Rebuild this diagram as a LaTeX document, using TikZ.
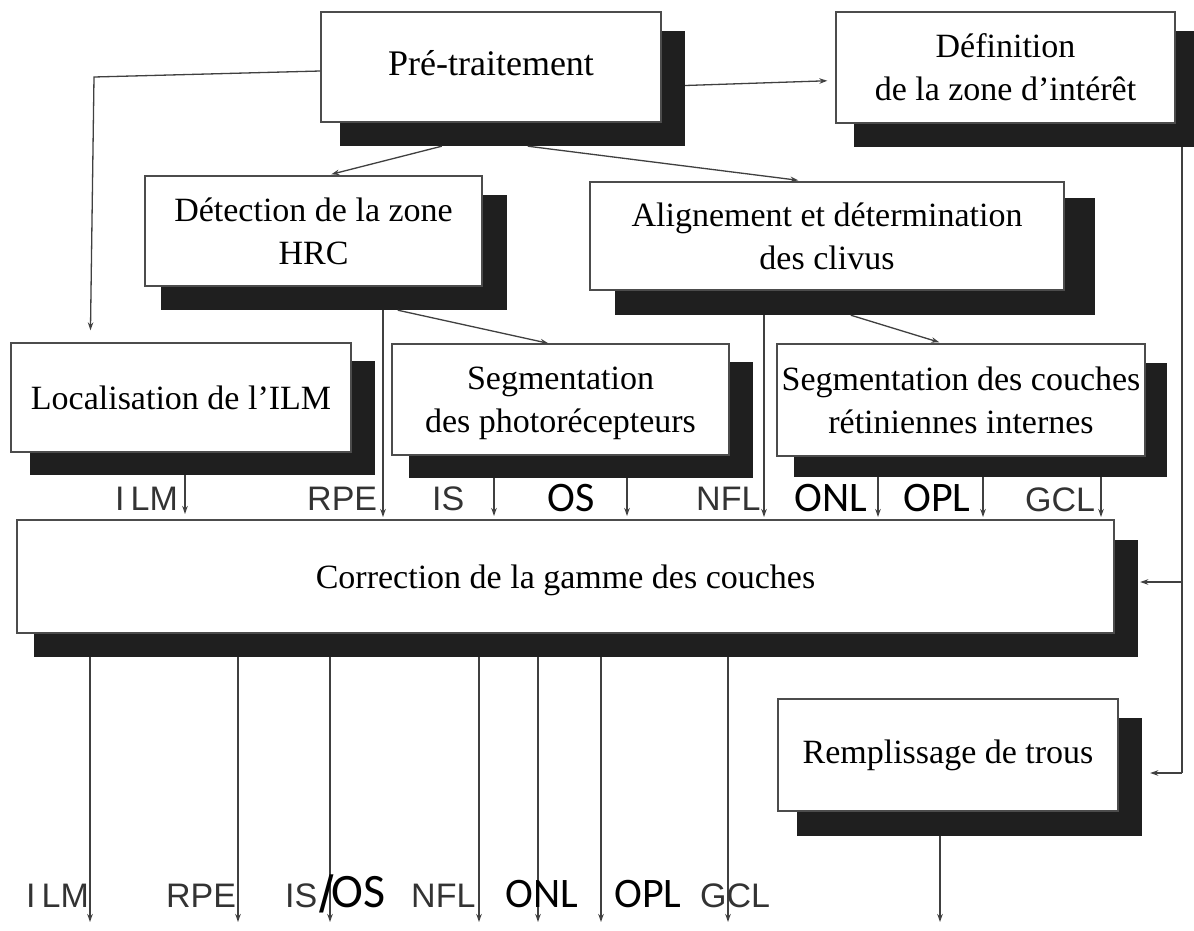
\documentclass[tikz,border=0pt]{standalone}
\usepackage{fontspec}
\setmainfont{Liberation Serif}
\newfontfamily\arialf{Liberation Sans}
\newfontfamily\calf{Carlito}
\usetikzlibrary{calc,arrows.meta}
\begin{document}
\begin{tikzpicture}[x=1pt,y=-1pt,
  box/.style={draw=black!70, line width=1.4pt, fill=white, align=center, inner sep=0pt,
    font=\fontsize{34}{43}\selectfont},
  shadowbox/.style={fill=black!88, draw=none, inner sep=0pt},
  arr/.style={draw=black!75, line width=1.3pt, -{Stealth[length=8pt,width=5.5pt]}},
  ln/.style={draw=black!75, line width=1.3pt},
  lab/.style={font=\arialf\fontsize{34}{34}\selectfont, text=black!80, inner sep=0pt, anchor=base west},
  labc/.style={font=\calf\fontsize{42}{42}\selectfont, text=black, inner sep=0pt, anchor=base west},
]
\useasboundingbox (0,0) rectangle (1194,930);
\fill[white] (0,0) rectangle (1194,930);

% shadows
\node[shadowbox, minimum width=345pt, minimum height=115pt] (pres) at (512.5,88.5) {};
\node[shadowbox, minimum width=340pt, minimum height=116pt] (defs) at (1024,89) {};
\node[shadowbox, minimum width=346pt, minimum height=115pt] (dets) at (334,252.5) {};
\node[shadowbox, minimum width=480pt, minimum height=117pt] (alis) at (855,256.5) {};
\node[shadowbox, minimum width=345pt, minimum height=114pt] (locs) at (202.5,418) {};
\node[shadowbox, minimum width=344pt, minimum height=116pt] (segps) at (581,420) {};
\node[shadowbox, minimum width=373pt, minimum height=114pt] (cous) at (980.5,420) {};
\node[shadowbox, minimum width=1104pt, minimum height=117pt] (corrs) at (586,598.5) {};
\node[shadowbox, minimum width=345pt, minimum height=118pt] (remps) at (969.5,777) {};

% boxes
\node[box, minimum width=340pt, minimum height=110pt, text height=17pt, font=\fontsize{36}{43}\selectfont] (pre) at (491,67) {Pré-traitement};
\node[box, minimum width=339pt, minimum height=111pt] (def) at (1005.5,67.5) {Définition\\de la zone d'intérêt};
\node[box, minimum width=337pt, minimum height=110pt] (det) at (313.5,231) {Détection de la zone\\HRC};
\node[box, minimum width=474pt, minimum height=108pt] (ali) at (827,236) {Alignement et détermination\\des clivus};
\node[box, minimum width=340pt, minimum height=109pt] (loc) at (181,397.5) {Localisation de l’ILM};
\node[box, minimum width=337pt, minimum height=111pt, text depth=0pt] (segp) at (560.5,399.5) {Segmentation\\des photorécepteurs};
\node[box, minimum width=368pt, minimum height=112pt] (cou) at (961,400) {Segmentation des couches\\rétiniennes internes};
\node[box, minimum width=1097pt, minimum height=113pt, text depth=0pt] (corr) at (565.5,576.5) {Correction de la gamme des couches};
\node[box, minimum width=340pt, minimum height=112pt] (remp) at (948,755) {Remplissage de trous};

% connectors from Pré-traitement
\draw[arr, shorten >=12pt] ($(pre.west)+(0,4)$) -- (94,77) -- ($(loc.north west)+(80,0)$);
\draw[arr, shorten >=8pt] ($(pres.east)+(0,-3)$) -- ($(def.west)+(0,13)$);
\draw[arr] ($(pres.south west)+(102,0)$) -- ($(det.north west)+(187,-1)$);
\draw[arr] ($(pres.south west)+(188,0)$) -- ($(ali.north west)+(209,-1)$);

% from Détection / Alignement
\draw[arr] ($(dets.south west)+(237,0)$) -- ($(segp.north west)+(157,0)$);
\draw[arr] ($(alis.south west)+(236,0)$) -- ($(cou.north west)+(163,-1)$);

% right side line
\coordinate (rtop) at (1182,147);
\coordinate (rmid) at (1182,582);
\coordinate (rbot) at (1182,773);
\draw[ln] (rtop) -- (rbot);
\draw[arr, shorten >=2pt] (rmid) -- (corrs.east |- rmid);
\draw[arr, shorten >=8pt] (rbot) -- (remps.east |- rbot);

% top row arrows into Correction
\coordinate (tILM) at (185,520);
\coordinate (tRPE) at (383,520);
\coordinate (tIS) at (494,520);
\coordinate (tOS) at (627,520);
\coordinate (tNFL) at (764,520);
\coordinate (tONL) at (878,520);
\coordinate (tOPL) at (983,520);
\coordinate (tGCL) at (1101,520);
\draw[arr, shorten >=6pt] (locs.south -| tILM) -- (tILM);
\draw[arr, shorten >=3pt] (dets.south -| tRPE) -- (tRPE);
\draw[arr, shorten >=4pt] (segps.south -| tIS) -- (tIS);
\draw[arr, shorten >=4pt] (segps.south -| tOS) -- (tOS);
\draw[arr, shorten >=3pt] (alis.south -| tNFL) -- (tNFL);
\draw[arr, shorten >=3pt] (cous.south -| tONL) -- (tONL);
\draw[arr, shorten >=3pt] (cous.south -| tOPL) -- (tOPL);
\draw[arr, shorten >=3pt] (cous.south -| tGCL) -- (tGCL);

% top row labels
\node[lab] (l1) at (115,510) {I\kern6pt LM};
\node[lab] (l2) at (307,510) {RPE};
\node[lab] (l3) at (432,510) {IS};
\node[labc] (l4) at (547,511) {OS};
\node[lab] (l5) at (696,510) {NFL};
\node[labc] (l6) at (794,511) {ONL};
\node[labc] (l7) at (903,511) {OPL};
\node[lab] (l8) at (1025,511) {GCL};

% bottom arrows
\coordinate (b1) at (90,922);
\coordinate (b2) at (238,922);
\coordinate (b3) at (330,922);
\coordinate (b4) at (479,922);
\coordinate (b5) at (538,922);
\coordinate (b6) at (601,922);
\coordinate (b7) at (728,922);
\coordinate (b8) at (940,922);
\foreach \b in {b1,b2,b3,b4,b5,b6,b7} {\draw[arr] (corrs.south -| \b) -- (\b);}
\draw[arr] (remps.south -| b8) -- (b8);

% bottom labels
\node[lab] (m1) at (26,907) {I\kern6pt LM};
\node[lab] (m2) at (166,907) {RPE};
\node[lab] (m3) at (285,907) {IS\kern2pt{\color{black}\raisebox{-5pt}{\fontsize{52}{52}\selectfont /}\kern-2pt{\calf\fontsize{48}{48}\selectfont OS}}};
\node[lab] (m4) at (411,907) {NFL};
\node[labc] (m5) at (505,907) {ONL};
\node[labc] (m6) at (614,907) {OPL};
\node[lab] (m7) at (700,907) {GCL};
\end{tikzpicture}
\end{document}
